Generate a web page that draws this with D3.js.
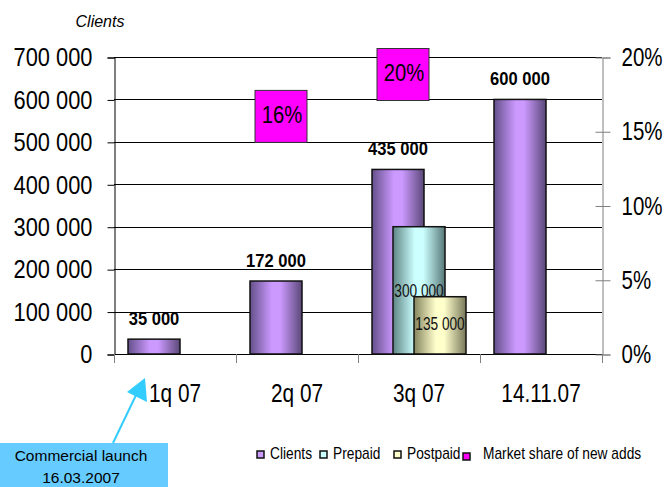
<!DOCTYPE html>
<html>
<head>
<meta charset="utf-8">
<script src="https://cdn.jsdelivr.net/npm/d3@7"></script>
<style>
  html, body { margin: 0; padding: 0; background: #fff; }
  svg { display: block; font-family: "Liberation Sans", Arial, sans-serif; }
</style>
</head>
<body>
<svg id="chart" width="669" height="487"></svg>
<script>
// ---- data ----
const categories  = ["1q 07", "2q 07", "3q 07", "14.11.07"];
const clients     = [35000, 172000, 435000, 600000];
const prepaid     = [null, null, 300000, null];
const postpaid    = [null, null, 135000, null];
const marketShare = [null, 16, 20, null];
const leftTicks   = [0, 100000, 200000, 300000, 400000, 500000, 600000, 700000];
const rightTicks  = [0, 5, 10, 15, 20];

// ---- layout ----
const plot = { left: 114, right: 602, top: 57, bottom: 354 };
const svg = d3.select("#chart");

const x  = d3.scaleBand().domain(categories).range([plot.left, plot.right]).padding(0);
const yL = d3.scaleLinear().domain([0, 700000]).range([plot.bottom, plot.top]);
const yR = d3.scaleLinear().domain([0, 20]).range([plot.bottom, plot.top]);

const fmtSpace = d => d3.format(",")(d).replace(/,/g, " ");

// narrow the glyphs horizontally around their anchor point, keeping their height
function condense(sel, k) {
  sel.each(function () {
    const ax = +(this.getAttribute("x") || 0);
    d3.select(this).attr("transform", `translate(${ax * (1 - k)},0) scale(${k},1)`);
  });
}

// ---- gradients (cylinder-like shading) ----
const defs = svg.append("defs");
function shade(id, edgeL, mid, edgeR) {
  const g = defs.append("linearGradient").attr("id", id)
    .attr("x1", "0%").attr("x2", "100%").attr("y1", "0%").attr("y2", "0%");
  g.append("stop").attr("offset", "0%").attr("stop-color", edgeL);
  g.append("stop").attr("offset", "42%").attr("stop-color", mid);
  g.append("stop").attr("offset", "58%").attr("stop-color", mid);
  g.append("stop").attr("offset", "100%").attr("stop-color", edgeR);
}
shade("gClients", "#64508a", "#cc99ff", "#5a4878");
shade("gPrepaid", "#5f8585", "#ccffff", "#587878");
shade("gPostpaid", "#85855f", "#ffffcc", "#78785a");

// ---- gridlines ----
svg.append("g").selectAll("line").data(leftTicks).join("line")
  .attr("x1", plot.left).attr("x2", plot.right)
  .attr("y1", d => Math.round(yL(d)) + 0.5).attr("y2", d => Math.round(yL(d)) + 0.5)
  .attr("stroke", "#000").attr("stroke-width", 1);

// ---- left axis ----
const axL = svg.append("g").attr("transform", `translate(${plot.left + 0.5},0.5)`)
  .call(d3.axisLeft(yL).tickValues(leftTicks).tickSize(7).tickPadding(15).tickFormat(fmtSpace));
axL.selectAll("text").attr("font-size", 26).attr("fill", "#000")
  .attr("font-family", "Liberation Sans, Arial, sans-serif").call(condense, 0.84);
axL.selectAll("line, path").attr("stroke", "#000");

// ---- right axis ----
const axR = svg.append("g").attr("transform", `translate(${plot.right + 0.5},0.5)`)
  .call(d3.axisRight(yR).tickValues(rightTicks).tickSize(8).tickPadding(11).tickFormat(d => d + "%"));
axR.select(".domain").attr("stroke", "#808080");
axR.selectAll(".tick line").attr("x1", -7).attr("stroke", "#808080");
axR.selectAll("text").attr("font-size", 25).attr("fill", "#000")
  .attr("font-family", "Liberation Sans, Arial, sans-serif").call(condense, 0.82);

// ---- category axis ----
const bounds = categories.map(c => x(c)).concat([plot.right]);
svg.append("g").selectAll("line").data(bounds).join("line")
  .attr("x1", d => Math.round(d) + 0.5).attr("x2", d => Math.round(d) + 0.5)
  .attr("y1", plot.bottom).attr("y2", plot.bottom + 9)
  .attr("stroke", "#808080");
const axX = svg.append("g").attr("transform", `translate(0,${plot.bottom})`)
  .call(d3.axisBottom(x).tickSize(0).tickPadding(30));
axX.select(".domain").remove();
axX.selectAll("text").attr("font-size", 26).attr("fill", "#000")
  .attr("font-family", "Liberation Sans, Arial, sans-serif").call(condense, 0.8);

// ---- bars ----
const barW = 52, step = 21;
const series = [
  { key: "Clients",  values: clients,  fill: "url(#gClients)",  offset: -step },
  { key: "Prepaid",  values: prepaid,  fill: "url(#gPrepaid)",  offset: 0 },
  { key: "Postpaid", values: postpaid, fill: "url(#gPostpaid)", offset: step }
];
const cx = (c, s) => x(c) + x.bandwidth() / 2 + s.offset;

series.forEach(s => {
  const pts = categories.map((c, i) => ({ c, v: s.values[i] })).filter(d => d.v != null);
  svg.append("g").selectAll("rect").data(pts).join("rect")
    .attr("x", d => cx(d.c, s) - barW / 2)
    .attr("y", d => yL(d.v))
    .attr("width", barW)
    .attr("height", d => yL(0) - yL(d.v))
    .attr("fill", s.fill)
    .attr("stroke", "#111").attr("stroke-width", 1.5);
});

// value labels: clients above bars (bold), prepaid/postpaid inside
const clientPts = categories.map((c, i) => ({ c, v: clients[i] }));
svg.append("g").selectAll("text").data(clientPts).join("text")
  .attr("x", d => cx(d.c, series[0]))
  .attr("y", d => yL(d.v) - 14)
  .attr("text-anchor", "middle").attr("font-size", 18).attr("font-weight", "bold")
  .text(d => fmtSpace(d.v))
  .call(condense, 0.92);

[[series[1], -57], [series[2], -24]].forEach(([s, dy]) => {
  const pts = categories.map((c, i) => ({ c, v: s.values[i] })).filter(d => d.v != null);
  svg.append("g").selectAll("text").data(pts).join("text")
    .attr("x", d => cx(d.c, s))
    .attr("y", d => yL(0) + dy)
    .attr("text-anchor", "middle").attr("font-size", 18).attr("fill", "#111")
    .text(d => fmtSpace(d.v))
    .call(condense, 0.76);
});

// ---- market share labels (secondary axis) ----
const boxW = 52, boxH = 52;
const msPts = categories.map((c, i) => ({ c, v: marketShare[i] })).filter(d => d.v != null);
const msG = svg.append("g").selectAll("g").data(msPts).join("g")
  .attr("transform", d => {
    const bx = x(d.c) + x.bandwidth() / 2 - 16;
    const by = Math.max(yR(d.v), plot.top + 17.5);
    return `translate(${bx},${by})`;
  });
msG.append("rect")
  .attr("x", -boxW / 2).attr("y", -boxH / 2).attr("width", boxW).attr("height", boxH)
  .attr("fill", "#ff00ff").attr("stroke", "#333").attr("stroke-width", 1);
msG.append("text").attr("text-anchor", "middle").attr("dy", "0.3em").attr("x", 1)
  .attr("font-size", 23).text(d => d.v + "%")
  .call(condense, 0.88);

// ---- axis title ----
svg.append("text").attr("x", 100).attr("y", 27).attr("text-anchor", "middle")
  .attr("font-size", 16).attr("font-style", "italic").text("Clients");

// ---- legend ----
const legend = [
  { label: "Clients",  fill: "#cc99ff", x: 257, y: 451 },
  { label: "Prepaid",  fill: "#ccffff", x: 320, y: 451 },
  { label: "Postpaid", fill: "#ffffcc", x: 394, y: 451 },
  { label: "Market share of new adds", fill: "#ff00ff", x: 463, y: 453, tx: 483 }
];
const lg = svg.append("g").selectAll("g").data(legend).join("g");
lg.append("rect").attr("x", d => d.x).attr("y", d => d.y).attr("width", 7).attr("height", 7)
  .attr("fill", d => d.fill).attr("stroke", "#111").attr("stroke-width", 1.5);
lg.append("text").attr("x", d => d.tx || d.x + 13).attr("y", 459)
  .attr("font-size", 16).text(d => d.label)
  .call(condense, 0.86);

// ---- launch callout ----
const callout = svg.append("g");
callout.append("rect").attr("x", 0).attr("y", 443).attr("width", 168).attr("height", 44)
  .attr("fill", "#66ccff");
callout.append("line").attr("x1", 113).attr("y1", 443).attr("x2", 138).attr("y2", 391)
  .attr("stroke", "#33ccff").attr("stroke-width", 2);
callout.append("path").attr("d", "M145,378 L127,392 L147,402 Z").attr("fill", "#33ccff");
callout.append("text").attr("x", 81).attr("y", 461).attr("text-anchor", "middle")
  .attr("font-size", 15.5).text("Commercial launch");
callout.append("text").attr("x", 81).attr("y", 483).attr("text-anchor", "middle")
  .attr("font-size", 15.5).text("16.03.2007");
</script>
</body>
</html>
